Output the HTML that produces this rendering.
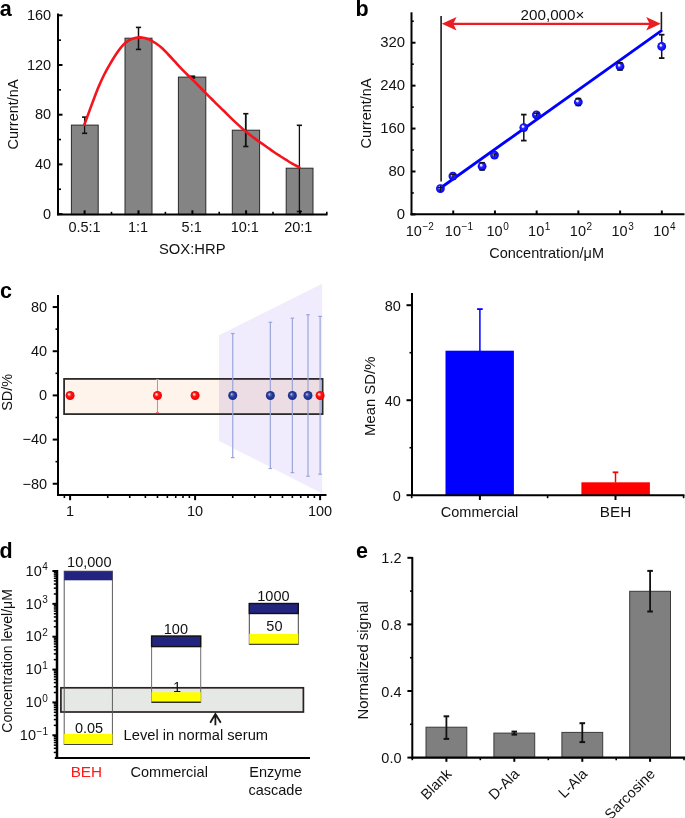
<!DOCTYPE html>
<html><head><meta charset="utf-8"><style>
html,body{margin:0;padding:0;background:#fff;}
svg{display:block;font-family:"Liberation Sans",sans-serif;will-change:transform;}
</style></head><body>
<svg width="685" height="818" viewBox="0 0 685 818">
<rect x="0" y="0" width="685" height="818" fill="#fff"/>
<defs>
<radialGradient id="gb" cx="0.5" cy="0.5" r="0.5" fx="0.36" fy="0.34"><stop offset="0" stop-color="#ffffff"/><stop offset="0.2" stop-color="#d8d8ff"/><stop offset="0.4" stop-color="#2a2aff"/><stop offset="1" stop-color="#0000f0"/></radialGradient>
<radialGradient id="gn" cx="0.5" cy="0.5" r="0.5" fx="0.36" fy="0.34"><stop offset="0" stop-color="#dcdcf4"/><stop offset="0.3" stop-color="#4b5fb0"/><stop offset="0.6" stop-color="#22399a"/><stop offset="1" stop-color="#1a2c86"/></radialGradient>
<radialGradient id="gr" cx="0.5" cy="0.5" r="0.5" fx="0.35" fy="0.33"><stop offset="0" stop-color="#ffffff"/><stop offset="0.22" stop-color="#ff9a9a"/><stop offset="0.45" stop-color="#ff1414"/><stop offset="1" stop-color="#ee0000"/></radialGradient>
</defs>
<text x="-0.30" y="15.70" font-size="21.5" text-anchor="start" fill="#000" font-weight="bold" >a</text>
<line x1="58.00" y1="13.60" x2="58.00" y2="215.20" stroke="#000" stroke-width="2" />
<line x1="58.00" y1="214.10" x2="62.50" y2="214.10" stroke="#000" stroke-width="2" />
<text x="51.20" y="218.70" font-size="14.5" text-anchor="end" fill="#111" >0</text>
<line x1="58.00" y1="164.40" x2="62.50" y2="164.40" stroke="#000" stroke-width="2" />
<text x="51.20" y="169.00" font-size="14.5" text-anchor="end" fill="#111" >40</text>
<line x1="58.00" y1="114.70" x2="62.50" y2="114.70" stroke="#000" stroke-width="2" />
<text x="51.20" y="119.30" font-size="14.5" text-anchor="end" fill="#111" >80</text>
<line x1="58.00" y1="65.00" x2="62.50" y2="65.00" stroke="#000" stroke-width="2" />
<text x="51.20" y="69.60" font-size="14.5" text-anchor="end" fill="#111" >120</text>
<line x1="58.00" y1="15.30" x2="62.50" y2="15.30" stroke="#000" stroke-width="2" />
<text x="51.20" y="19.90" font-size="14.5" text-anchor="end" fill="#111" >160</text>
<line x1="58.00" y1="189.25" x2="61.00" y2="189.25" stroke="#000" stroke-width="1.6" />
<line x1="58.00" y1="139.55" x2="61.00" y2="139.55" stroke="#000" stroke-width="1.6" />
<line x1="58.00" y1="89.85" x2="61.00" y2="89.85" stroke="#000" stroke-width="1.6" />
<line x1="58.00" y1="40.15" x2="61.00" y2="40.15" stroke="#000" stroke-width="1.6" />
<rect x="71.40" y="125.10" width="26.80" height="89.50" fill="#848484" stroke="#2a2a2a" stroke-width="1" />
<rect x="125.00" y="38.20" width="27.00" height="176.40" fill="#848484" stroke="#2a2a2a" stroke-width="1" />
<rect x="178.40" y="77.10" width="27.40" height="137.50" fill="#848484" stroke="#2a2a2a" stroke-width="1" />
<rect x="232.30" y="130.20" width="27.30" height="84.40" fill="#848484" stroke="#2a2a2a" stroke-width="1" />
<rect x="286.20" y="168.20" width="26.80" height="46.40" fill="#848484" stroke="#2a2a2a" stroke-width="1" />
<line x1="84.60" y1="117.10" x2="84.60" y2="133.30" stroke="#111" stroke-width="1.3" />
<line x1="82.00" y1="117.10" x2="87.20" y2="117.10" stroke="#111" stroke-width="1.6" />
<line x1="82.00" y1="133.30" x2="87.20" y2="133.30" stroke="#111" stroke-width="1.6" />
<line x1="138.50" y1="27.40" x2="138.50" y2="49.40" stroke="#111" stroke-width="1.5" />
<line x1="135.90" y1="27.40" x2="141.10" y2="27.40" stroke="#111" stroke-width="1.6" />
<line x1="135.90" y1="49.40" x2="141.10" y2="49.40" stroke="#111" stroke-width="1.6" />
<line x1="192.60" y1="76.20" x2="192.60" y2="78.00" stroke="#111" stroke-width="1.5" />
<line x1="190.00" y1="76.20" x2="195.20" y2="76.20" stroke="#111" stroke-width="1.6" />
<line x1="190.00" y1="78.00" x2="195.20" y2="78.00" stroke="#111" stroke-width="1.6" />
<line x1="245.80" y1="113.70" x2="245.80" y2="146.50" stroke="#111" stroke-width="1.8" />
<line x1="243.20" y1="113.70" x2="248.40" y2="113.70" stroke="#111" stroke-width="1.6" />
<line x1="243.20" y1="146.50" x2="248.40" y2="146.50" stroke="#111" stroke-width="1.6" />
<line x1="299.40" y1="125.30" x2="299.40" y2="211.50" stroke="#111" stroke-width="1.3" />
<line x1="296.80" y1="125.30" x2="302.00" y2="125.30" stroke="#111" stroke-width="1.6" />
<line x1="296.80" y1="211.50" x2="302.00" y2="211.50" stroke="#111" stroke-width="1.6" />
<line x1="57.00" y1="214.60" x2="327.50" y2="214.60" stroke="#000" stroke-width="2" />
<line x1="84.60" y1="214.30" x2="84.60" y2="210.30" stroke="#000" stroke-width="2" />
<line x1="138.50" y1="214.30" x2="138.50" y2="210.30" stroke="#000" stroke-width="2" />
<line x1="192.40" y1="214.30" x2="192.40" y2="210.30" stroke="#000" stroke-width="2" />
<line x1="246.10" y1="214.30" x2="246.10" y2="210.30" stroke="#000" stroke-width="2" />
<line x1="299.90" y1="214.30" x2="299.90" y2="210.30" stroke="#000" stroke-width="2" />
<line x1="57.80" y1="214.30" x2="57.80" y2="211.80" stroke="#000" stroke-width="1.6" />
<line x1="111.50" y1="214.30" x2="111.50" y2="211.80" stroke="#000" stroke-width="1.6" />
<line x1="165.40" y1="214.30" x2="165.40" y2="211.80" stroke="#000" stroke-width="1.6" />
<line x1="219.20" y1="214.30" x2="219.20" y2="211.80" stroke="#000" stroke-width="1.6" />
<line x1="273.00" y1="214.30" x2="273.00" y2="211.80" stroke="#000" stroke-width="1.6" />
<line x1="326.80" y1="214.30" x2="326.80" y2="211.80" stroke="#000" stroke-width="1.6" />
<text x="84.50" y="231.70" font-size="14.5" text-anchor="middle" fill="#111" >0.5:1</text>
<text x="138.00" y="231.70" font-size="14.5" text-anchor="middle" fill="#111" >1:1</text>
<text x="191.70" y="231.70" font-size="14.5" text-anchor="middle" fill="#111" >5:1</text>
<text x="244.80" y="231.70" font-size="14.5" text-anchor="middle" fill="#111" >10:1</text>
<text x="298.30" y="231.70" font-size="14.5" text-anchor="middle" fill="#111" >20:1</text>
<text x="192.30" y="253.60" font-size="14.8" text-anchor="middle" fill="#111" >SOX:HRP</text>
<text x="0.00" y="0.00" font-size="14.5" text-anchor="middle" fill="#111" transform="translate(17.6,114.5) rotate(-90)">Current/nA</text>
<path d="M84.30,124.80 C85.62,121.23 89.87,109.62 92.20,103.40 C94.53,97.18 96.25,92.40 98.30,87.50 C100.35,82.60 102.45,78.08 104.50,74.00 C106.55,69.92 108.57,66.47 110.60,63.00 C112.63,59.53 114.67,56.15 116.70,53.20 C118.73,50.25 120.77,47.43 122.80,45.30 C124.83,43.17 126.87,41.62 128.90,40.40 C130.93,39.18 133.07,38.50 135.00,38.00 C136.93,37.50 138.25,37.20 140.50,37.40 C142.75,37.60 145.90,38.18 148.50,39.20 C151.10,40.22 153.82,41.98 156.10,43.50 C158.38,45.02 160.17,46.47 162.20,48.30 C164.23,50.13 166.25,52.35 168.30,54.50 C170.35,56.65 172.45,58.97 174.50,61.20 C176.55,63.43 178.57,65.77 180.60,67.90 C182.63,70.03 184.67,72.00 186.70,74.00 C188.73,76.00 190.77,77.88 192.80,79.90 C194.83,81.92 196.87,84.02 198.90,86.10 C200.93,88.18 202.95,90.33 205.00,92.40 C207.05,94.47 209.15,96.47 211.20,98.50 C213.25,100.53 215.27,102.60 217.30,104.60 C219.33,106.60 221.10,108.25 223.40,110.50 C225.70,112.75 228.80,115.87 231.10,118.10 C233.40,120.33 235.17,122.02 237.20,123.90 C239.23,125.78 241.25,127.62 243.30,129.40 C245.35,131.18 247.45,132.98 249.50,134.60 C251.55,136.22 253.57,137.63 255.60,139.10 C257.63,140.57 259.67,141.97 261.70,143.40 C263.73,144.83 265.77,146.27 267.80,147.70 C269.83,149.13 271.87,150.62 273.90,152.00 C275.93,153.38 277.95,154.68 280.00,156.00 C282.05,157.32 284.15,158.63 286.20,159.90 C288.25,161.17 290.10,162.37 292.30,163.60 C294.50,164.83 298.22,166.68 299.40,167.30" fill="none" stroke="#f5141e" stroke-width="2.6" stroke-linecap="round"/>
<text x="355.60" y="15.70" font-size="21.5" text-anchor="start" fill="#000" font-weight="bold" >b</text>
<line x1="411.50" y1="12.30" x2="411.50" y2="215.30" stroke="#000" stroke-width="2" />
<line x1="411.50" y1="214.40" x2="415.50" y2="214.40" stroke="#000" stroke-width="2" />
<text x="405.00" y="218.90" font-size="14.9" text-anchor="end" fill="#111" >0</text>
<line x1="411.50" y1="171.48" x2="415.50" y2="171.48" stroke="#000" stroke-width="2" />
<text x="405.00" y="175.98" font-size="14.9" text-anchor="end" fill="#111" >80</text>
<line x1="411.50" y1="128.56" x2="415.50" y2="128.56" stroke="#000" stroke-width="2" />
<text x="405.00" y="133.06" font-size="14.9" text-anchor="end" fill="#111" >160</text>
<line x1="411.50" y1="85.64" x2="415.50" y2="85.64" stroke="#000" stroke-width="2" />
<text x="405.00" y="90.14" font-size="14.9" text-anchor="end" fill="#111" >240</text>
<line x1="411.50" y1="42.72" x2="415.50" y2="42.72" stroke="#000" stroke-width="2" />
<text x="405.00" y="47.22" font-size="14.9" text-anchor="end" fill="#111" >320</text>
<line x1="411.50" y1="192.94" x2="413.80" y2="192.94" stroke="#000" stroke-width="1.6" />
<line x1="411.50" y1="150.02" x2="413.80" y2="150.02" stroke="#000" stroke-width="1.6" />
<line x1="411.50" y1="107.10" x2="413.80" y2="107.10" stroke="#000" stroke-width="1.6" />
<line x1="411.50" y1="64.18" x2="413.80" y2="64.18" stroke="#000" stroke-width="1.6" />
<line x1="411.50" y1="21.26" x2="413.80" y2="21.26" stroke="#000" stroke-width="1.6" />
<line x1="410.50" y1="214.30" x2="684.50" y2="214.30" stroke="#000" stroke-width="2" />
<line x1="453.22" y1="214.30" x2="453.22" y2="210.50" stroke="#000" stroke-width="2" />
<line x1="494.94" y1="214.30" x2="494.94" y2="210.50" stroke="#000" stroke-width="2" />
<line x1="536.66" y1="214.30" x2="536.66" y2="210.50" stroke="#000" stroke-width="2" />
<line x1="578.38" y1="214.30" x2="578.38" y2="210.50" stroke="#000" stroke-width="2" />
<line x1="620.10" y1="214.30" x2="620.10" y2="210.50" stroke="#000" stroke-width="2" />
<line x1="661.82" y1="214.30" x2="661.82" y2="210.50" stroke="#000" stroke-width="2" />
<text x="405.72" y="236.00" font-size="14.5" fill="#111">10<tspan font-size="10" dx="0.6" dy="-6.2">−2</tspan></text>
<text x="444.82" y="236.00" font-size="14.5" fill="#111">10<tspan font-size="10" dx="0.6" dy="-6.2">−1</tspan></text>
<text x="486.39" y="236.00" font-size="14.5" fill="#111">10<tspan font-size="10" dx="0.6" dy="-6.2">0</tspan></text>
<text x="528.11" y="236.00" font-size="14.5" fill="#111">10<tspan font-size="10" dx="0.6" dy="-6.2">1</tspan></text>
<text x="569.83" y="236.00" font-size="14.5" fill="#111">10<tspan font-size="10" dx="0.6" dy="-6.2">2</tspan></text>
<text x="611.55" y="236.00" font-size="14.5" fill="#111">10<tspan font-size="10" dx="0.6" dy="-6.2">3</tspan></text>
<text x="653.27" y="236.00" font-size="14.5" fill="#111">10<tspan font-size="10" dx="0.6" dy="-6.2">4</tspan></text>
<text x="546.60" y="257.60" font-size="14.5" text-anchor="middle" fill="#111" >Concentration/μM</text>
<text x="0.00" y="0.00" font-size="14.5" text-anchor="middle" fill="#111" transform="translate(371,113.5) rotate(-90)">Current/nA</text>
<line x1="441.10" y1="16.10" x2="441.10" y2="181.50" stroke="#1a1a1a" stroke-width="1.6" />
<line x1="661.40" y1="11.90" x2="661.40" y2="29.80" stroke="#1a1a1a" stroke-width="1.6" />
<line x1="452.00" y1="23.80" x2="651.00" y2="23.80" stroke="#ec1c24" stroke-width="2.2" />
<path d="M441.8,23.8 L456.6,17.1 L453.2,23.8 L456.6,30.5 Z" fill="#ec1c24"/>
<path d="M660.8,23.8 L646.2,17.1 L649.6,23.8 L646.2,30.5 Z" fill="#ec1c24"/>
<text x="552.50" y="20.40" font-size="15.2" text-anchor="middle" fill="#111" >200,000×</text>
<line x1="439.80" y1="188.50" x2="662.20" y2="30.10" stroke="#0000ff" stroke-width="2.8" />
<line x1="523.80" y1="114.60" x2="523.80" y2="140.60" stroke="#111" stroke-width="1.5" />
<line x1="521.05" y1="114.60" x2="526.55" y2="114.60" stroke="#111" stroke-width="1.8" />
<line x1="521.05" y1="140.60" x2="526.55" y2="140.60" stroke="#111" stroke-width="1.8" />
<line x1="661.70" y1="34.70" x2="661.70" y2="58.10" stroke="#111" stroke-width="1.5" />
<line x1="658.95" y1="34.70" x2="664.45" y2="34.70" stroke="#111" stroke-width="1.8" />
<line x1="658.95" y1="58.10" x2="664.45" y2="58.10" stroke="#111" stroke-width="1.8" />
<circle cx="440.4" cy="188.6" r="4.4" fill="url(#gb)"/>
<line x1="440.40" y1="185.40" x2="440.40" y2="191.80" stroke="#111" stroke-width="1.1" />
<line x1="437.90" y1="187.60" x2="442.90" y2="187.60" stroke="#111" stroke-width="1.2" />
<circle cx="452.9" cy="176.1" r="4.4" fill="url(#gb)"/>
<line x1="450.30" y1="174.60" x2="455.50" y2="174.60" stroke="#111" stroke-width="1.3" />
<line x1="452.90" y1="174.60" x2="452.90" y2="177.60" stroke="#111" stroke-width="1" />
<circle cx="482.1" cy="166.3" r="4.4" fill="url(#gb)"/>
<line x1="479.30" y1="162.60" x2="484.90" y2="162.60" stroke="#111" stroke-width="1.4" />
<line x1="479.30" y1="170.00" x2="484.90" y2="170.00" stroke="#111" stroke-width="1.4" />
<circle cx="494.5" cy="155.1" r="4.4" fill="url(#gb)"/>
<line x1="491.90" y1="153.90" x2="497.10" y2="153.90" stroke="#111" stroke-width="1.3" />
<line x1="494.50" y1="153.90" x2="494.50" y2="156.30" stroke="#111" stroke-width="1" />
<circle cx="523.8" cy="127.6" r="4.4" fill="url(#gb)"/>
<circle cx="536.4" cy="114.8" r="4.4" fill="url(#gb)"/>
<line x1="533.80" y1="113.30" x2="539.00" y2="113.30" stroke="#111" stroke-width="1.3" />
<line x1="536.40" y1="113.30" x2="536.40" y2="116.30" stroke="#111" stroke-width="1" />
<circle cx="578.3" cy="102.0" r="4.4" fill="url(#gb)"/>
<line x1="575.50" y1="98.50" x2="581.10" y2="98.50" stroke="#111" stroke-width="1.4" />
<line x1="575.50" y1="105.50" x2="581.10" y2="105.50" stroke="#111" stroke-width="1.4" />
<circle cx="620.0" cy="66.4" r="4.4" fill="url(#gb)"/>
<line x1="617.20" y1="62.70" x2="622.80" y2="62.70" stroke="#111" stroke-width="1.4" />
<line x1="617.20" y1="70.10" x2="622.80" y2="70.10" stroke="#111" stroke-width="1.4" />
<circle cx="661.7" cy="46.4" r="4.4" fill="url(#gb)"/>
<text x="-0.10" y="297.50" font-size="21.5" text-anchor="start" fill="#000" font-weight="bold" >c</text>
<rect x="64.10" y="378.90" width="258.50" height="35.20" fill="#fef4eb" stroke="none" stroke-width="1" />
<polygon points="219,335.2 322.2,283.7 322.2,493.5 219,440.9" fill="#f0ecfd"/>
<rect x="219.00" y="378.90" width="103.60" height="35.20" fill="#ecdce3" stroke="none" stroke-width="1" />
<rect x="64.10" y="378.90" width="258.50" height="35.20" fill="none" stroke="#2b2b2b" stroke-width="1.8" />
<line x1="58.00" y1="294.90" x2="58.00" y2="495.60" stroke="#000" stroke-width="2" />
<line x1="52.70" y1="307.04" x2="58.00" y2="307.04" stroke="#000" stroke-width="2" />
<text x="47.20" y="311.84" font-size="14.5" text-anchor="end" fill="#111" >80</text>
<line x1="52.70" y1="351.22" x2="58.00" y2="351.22" stroke="#000" stroke-width="2" />
<text x="47.20" y="356.02" font-size="14.5" text-anchor="end" fill="#111" >40</text>
<line x1="52.70" y1="395.40" x2="58.00" y2="395.40" stroke="#000" stroke-width="2" />
<text x="47.20" y="400.20" font-size="14.5" text-anchor="end" fill="#111" >0</text>
<line x1="52.70" y1="439.58" x2="58.00" y2="439.58" stroke="#000" stroke-width="2" />
<text x="47.20" y="444.38" font-size="14.5" text-anchor="end" fill="#111" >−40</text>
<line x1="52.70" y1="483.76" x2="58.00" y2="483.76" stroke="#000" stroke-width="2" />
<text x="47.20" y="488.56" font-size="14.5" text-anchor="end" fill="#111" >−80</text>
<line x1="55.50" y1="329.13" x2="58.00" y2="329.13" stroke="#000" stroke-width="1.6" />
<line x1="55.50" y1="373.31" x2="58.00" y2="373.31" stroke="#000" stroke-width="1.6" />
<line x1="55.50" y1="417.49" x2="58.00" y2="417.49" stroke="#000" stroke-width="1.6" />
<line x1="55.50" y1="461.67" x2="58.00" y2="461.67" stroke="#000" stroke-width="1.6" />
<line x1="57.00" y1="495.00" x2="326.50" y2="495.00" stroke="#000" stroke-width="2" />
<line x1="70.10" y1="495.00" x2="70.10" y2="500.20" stroke="#000" stroke-width="2" />
<line x1="195.10" y1="495.00" x2="195.10" y2="500.20" stroke="#000" stroke-width="2" />
<line x1="320.10" y1="495.00" x2="320.10" y2="500.20" stroke="#000" stroke-width="2" />
<line x1="64.38" y1="495.00" x2="64.38" y2="498.00" stroke="#000" stroke-width="1.6" />
<line x1="107.73" y1="495.00" x2="107.73" y2="498.00" stroke="#000" stroke-width="1.6" />
<line x1="129.74" y1="495.00" x2="129.74" y2="498.00" stroke="#000" stroke-width="1.6" />
<line x1="145.36" y1="495.00" x2="145.36" y2="498.00" stroke="#000" stroke-width="1.6" />
<line x1="157.47" y1="495.00" x2="157.47" y2="498.00" stroke="#000" stroke-width="1.6" />
<line x1="167.37" y1="495.00" x2="167.37" y2="498.00" stroke="#000" stroke-width="1.6" />
<line x1="175.74" y1="495.00" x2="175.74" y2="498.00" stroke="#000" stroke-width="1.6" />
<line x1="182.99" y1="495.00" x2="182.99" y2="498.00" stroke="#000" stroke-width="1.6" />
<line x1="189.38" y1="495.00" x2="189.38" y2="498.00" stroke="#000" stroke-width="1.6" />
<line x1="232.73" y1="495.00" x2="232.73" y2="498.00" stroke="#000" stroke-width="1.6" />
<line x1="254.74" y1="495.00" x2="254.74" y2="498.00" stroke="#000" stroke-width="1.6" />
<line x1="270.36" y1="495.00" x2="270.36" y2="498.00" stroke="#000" stroke-width="1.6" />
<line x1="282.47" y1="495.00" x2="282.47" y2="498.00" stroke="#000" stroke-width="1.6" />
<line x1="292.37" y1="495.00" x2="292.37" y2="498.00" stroke="#000" stroke-width="1.6" />
<line x1="300.74" y1="495.00" x2="300.74" y2="498.00" stroke="#000" stroke-width="1.6" />
<line x1="307.99" y1="495.00" x2="307.99" y2="498.00" stroke="#000" stroke-width="1.6" />
<line x1="314.38" y1="495.00" x2="314.38" y2="498.00" stroke="#000" stroke-width="1.6" />
<text x="70.10" y="516.20" font-size="14.5" text-anchor="middle" fill="#111" >1</text>
<text x="195.10" y="516.20" font-size="14.5" text-anchor="middle" fill="#111" >10</text>
<text x="320.10" y="516.20" font-size="14.5" text-anchor="middle" fill="#111" >100</text>
<text x="0.00" y="0.00" font-size="14.5" text-anchor="middle" fill="#111" transform="translate(12.3,392.3) rotate(-90)">SD/%</text>
<line x1="232.73" y1="333.50" x2="232.73" y2="457.60" stroke="#9ba6d8" stroke-width="1.2" />
<line x1="230.93" y1="333.50" x2="234.53" y2="333.50" stroke="#9ba6d8" stroke-width="1.2" />
<line x1="230.93" y1="457.60" x2="234.53" y2="457.60" stroke="#9ba6d8" stroke-width="1.2" />
<line x1="270.36" y1="322.30" x2="270.36" y2="468.50" stroke="#9ba6d8" stroke-width="1.2" />
<line x1="268.56" y1="322.30" x2="272.16" y2="322.30" stroke="#9ba6d8" stroke-width="1.2" />
<line x1="268.56" y1="468.50" x2="272.16" y2="468.50" stroke="#9ba6d8" stroke-width="1.2" />
<line x1="292.37" y1="318.20" x2="292.37" y2="472.60" stroke="#9ba6d8" stroke-width="1.2" />
<line x1="290.57" y1="318.20" x2="294.17" y2="318.20" stroke="#9ba6d8" stroke-width="1.2" />
<line x1="290.57" y1="472.60" x2="294.17" y2="472.60" stroke="#9ba6d8" stroke-width="1.2" />
<line x1="307.99" y1="314.70" x2="307.99" y2="476.20" stroke="#9ba6d8" stroke-width="1.2" />
<line x1="306.19" y1="314.70" x2="309.79" y2="314.70" stroke="#9ba6d8" stroke-width="1.2" />
<line x1="306.19" y1="476.20" x2="309.79" y2="476.20" stroke="#9ba6d8" stroke-width="1.2" />
<line x1="320.10" y1="316.40" x2="320.10" y2="474.20" stroke="#9ba6d8" stroke-width="1.2" />
<line x1="318.30" y1="316.40" x2="321.90" y2="316.40" stroke="#9ba6d8" stroke-width="1.2" />
<line x1="318.30" y1="474.20" x2="321.90" y2="474.20" stroke="#9ba6d8" stroke-width="1.2" />
<line x1="157.47" y1="379.50" x2="157.47" y2="412.50" stroke="#f27a80" stroke-width="1" />
<line x1="155.97" y1="379.50" x2="158.97" y2="379.50" stroke="#f27a80" stroke-width="1" />
<line x1="155.97" y1="412.50" x2="158.97" y2="412.50" stroke="#f27a80" stroke-width="1" />
<circle cx="70.10" cy="395.5" r="4.5" fill="url(#gr)"/>
<circle cx="157.47" cy="395.5" r="4.5" fill="url(#gr)"/>
<circle cx="195.10" cy="395.5" r="4.5" fill="url(#gr)"/>
<circle cx="320.10" cy="395.5" r="4.5" fill="url(#gr)"/>
<circle cx="232.73" cy="395.5" r="4.5" fill="url(#gn)"/>
<circle cx="270.36" cy="395.5" r="4.5" fill="url(#gn)"/>
<circle cx="292.37" cy="395.5" r="4.5" fill="url(#gn)"/>
<circle cx="307.99" cy="395.5" r="4.5" fill="url(#gn)"/>
<rect x="445.50" y="350.70" width="68.40" height="144.50" fill="#0000ff" stroke="none" stroke-width="1" />
<rect x="581.40" y="482.30" width="68.50" height="12.90" fill="#ff0000" stroke="none" stroke-width="1" />
<line x1="479.90" y1="309.10" x2="479.90" y2="351.00" stroke="#0000ff" stroke-width="1.5" />
<line x1="477.10" y1="309.10" x2="482.70" y2="309.10" stroke="#0000ff" stroke-width="1.8" />
<line x1="615.50" y1="472.30" x2="615.50" y2="482.50" stroke="#ff0000" stroke-width="1.5" />
<line x1="612.70" y1="472.30" x2="618.30" y2="472.30" stroke="#ff0000" stroke-width="1.8" />
<line x1="412.00" y1="293.10" x2="412.00" y2="495.60" stroke="#000" stroke-width="2" />
<line x1="406.50" y1="495.20" x2="412.00" y2="495.20" stroke="#000" stroke-width="2" />
<text x="400.80" y="500.80" font-size="14.5" text-anchor="end" fill="#111" >0</text>
<line x1="406.50" y1="400.20" x2="412.00" y2="400.20" stroke="#000" stroke-width="2" />
<text x="400.80" y="405.80" font-size="14.5" text-anchor="end" fill="#111" >40</text>
<line x1="406.50" y1="305.20" x2="412.00" y2="305.20" stroke="#000" stroke-width="2" />
<text x="400.80" y="310.80" font-size="14.5" text-anchor="end" fill="#111" >80</text>
<line x1="409.50" y1="447.70" x2="412.00" y2="447.70" stroke="#000" stroke-width="1.6" />
<line x1="409.50" y1="352.70" x2="412.00" y2="352.70" stroke="#000" stroke-width="1.6" />
<line x1="411.00" y1="495.20" x2="684.50" y2="495.20" stroke="#000" stroke-width="2" />
<line x1="479.90" y1="495.20" x2="479.90" y2="500.00" stroke="#000" stroke-width="2" />
<line x1="615.50" y1="495.20" x2="615.50" y2="500.00" stroke="#000" stroke-width="2" />
<line x1="411.70" y1="495.20" x2="411.70" y2="498.20" stroke="#000" stroke-width="1.6" />
<line x1="547.60" y1="495.20" x2="547.60" y2="498.20" stroke="#000" stroke-width="1.6" />
<line x1="683.60" y1="495.20" x2="683.60" y2="498.20" stroke="#000" stroke-width="1.6" />
<text x="479.50" y="516.70" font-size="14.5" text-anchor="middle" fill="#111" >Commercial</text>
<text x="615.50" y="516.90" font-size="15.3" text-anchor="middle" fill="#111" >BEH</text>
<text x="0.00" y="0.00" font-size="14.9" text-anchor="middle" fill="#111" transform="translate(375,396.3) rotate(-90)">Mean SD/%</text>
<text x="-0.40" y="558.20" font-size="21.5" text-anchor="start" fill="#000" font-weight="bold" >d</text>
<rect x="60.90" y="687.80" width="242.50" height="24.20" fill="#e6e8e6" stroke="#2a2222" stroke-width="1.7" />
<rect x="64.20" y="571.20" width="48.20" height="173.30" fill="none" stroke="#5a5a5a" stroke-width="1" />
<rect x="64.20" y="571.20" width="48.20" height="9.10" fill="#23247f" stroke="none" stroke-width="1" />
<rect x="64.20" y="733.90" width="48.20" height="10.60" fill="#ffff00" stroke="none" stroke-width="1" />
<rect x="151.60" y="636.10" width="49.10" height="66.20" fill="none" stroke="#707070" stroke-width="1" />
<rect x="151.60" y="636.10" width="49.10" height="10.50" fill="#23247f" stroke="none" stroke-width="1" />
<rect x="151.60" y="692.20" width="49.10" height="10.10" fill="#ffff00" stroke="none" stroke-width="1" />
<rect x="151.60" y="636.10" width="49.10" height="10.50" fill="none" stroke="#111" stroke-width="1.4" />
<line x1="151.60" y1="702.30" x2="200.70" y2="702.30" stroke="#333" stroke-width="1.4" />
<rect x="249.30" y="603.50" width="49.00" height="40.90" fill="none" stroke="#444" stroke-width="1" />
<rect x="249.30" y="603.50" width="49.00" height="10.00" fill="#23247f" stroke="none" stroke-width="1" />
<rect x="249.30" y="633.90" width="49.00" height="10.50" fill="#ffff00" stroke="none" stroke-width="1" />
<rect x="249.30" y="603.50" width="49.00" height="10.00" fill="none" stroke="#111" stroke-width="1.4" />
<line x1="249.30" y1="644.40" x2="298.30" y2="644.40" stroke="#444" stroke-width="1.2" />
<line x1="64.20" y1="744.50" x2="112.40" y2="744.50" stroke="#444" stroke-width="1.2" />
<line x1="57.00" y1="570.00" x2="57.00" y2="759.00" stroke="#000" stroke-width="2.5" />
<line x1="52.40" y1="735.25" x2="57.00" y2="735.25" stroke="#000" stroke-width="2" />
<text x="19.82" y="739.95" font-size="14.5" fill="#111">10<tspan font-size="10" dx="0.6" dy="-5.4">−1</tspan></text>
<line x1="52.40" y1="702.40" x2="57.00" y2="702.40" stroke="#000" stroke-width="2" />
<text x="25.62" y="707.10" font-size="14.5" fill="#111">10<tspan font-size="10" dx="0.6" dy="-5.4">0</tspan></text>
<line x1="52.40" y1="669.55" x2="57.00" y2="669.55" stroke="#000" stroke-width="2" />
<text x="25.62" y="674.25" font-size="14.5" fill="#111">10<tspan font-size="10" dx="0.6" dy="-5.4">1</tspan></text>
<line x1="52.40" y1="636.70" x2="57.00" y2="636.70" stroke="#000" stroke-width="2" />
<text x="25.62" y="641.40" font-size="14.5" fill="#111">10<tspan font-size="10" dx="0.6" dy="-5.4">2</tspan></text>
<line x1="52.40" y1="603.85" x2="57.00" y2="603.85" stroke="#000" stroke-width="2" />
<text x="25.62" y="608.55" font-size="14.5" fill="#111">10<tspan font-size="10" dx="0.6" dy="-5.4">3</tspan></text>
<line x1="52.40" y1="571.00" x2="57.00" y2="571.00" stroke="#000" stroke-width="2" />
<text x="25.62" y="575.70" font-size="14.5" fill="#111">10<tspan font-size="10" dx="0.6" dy="-5.4">4</tspan></text>
<line x1="53.80" y1="752.43" x2="57.00" y2="752.43" stroke="#000" stroke-width="1.5" />
<line x1="53.80" y1="748.32" x2="57.00" y2="748.32" stroke="#000" stroke-width="1.5" />
<line x1="53.80" y1="745.14" x2="57.00" y2="745.14" stroke="#000" stroke-width="1.5" />
<line x1="53.80" y1="742.54" x2="57.00" y2="742.54" stroke="#000" stroke-width="1.5" />
<line x1="53.80" y1="740.34" x2="57.00" y2="740.34" stroke="#000" stroke-width="1.5" />
<line x1="53.80" y1="738.43" x2="57.00" y2="738.43" stroke="#000" stroke-width="1.5" />
<line x1="53.80" y1="736.75" x2="57.00" y2="736.75" stroke="#000" stroke-width="1.5" />
<line x1="53.80" y1="725.36" x2="57.00" y2="725.36" stroke="#000" stroke-width="1.5" />
<line x1="53.80" y1="719.58" x2="57.00" y2="719.58" stroke="#000" stroke-width="1.5" />
<line x1="53.80" y1="715.47" x2="57.00" y2="715.47" stroke="#000" stroke-width="1.5" />
<line x1="53.80" y1="712.29" x2="57.00" y2="712.29" stroke="#000" stroke-width="1.5" />
<line x1="53.80" y1="709.69" x2="57.00" y2="709.69" stroke="#000" stroke-width="1.5" />
<line x1="53.80" y1="707.49" x2="57.00" y2="707.49" stroke="#000" stroke-width="1.5" />
<line x1="53.80" y1="705.58" x2="57.00" y2="705.58" stroke="#000" stroke-width="1.5" />
<line x1="53.80" y1="703.90" x2="57.00" y2="703.90" stroke="#000" stroke-width="1.5" />
<line x1="53.80" y1="692.51" x2="57.00" y2="692.51" stroke="#000" stroke-width="1.5" />
<line x1="53.80" y1="686.73" x2="57.00" y2="686.73" stroke="#000" stroke-width="1.5" />
<line x1="53.80" y1="682.62" x2="57.00" y2="682.62" stroke="#000" stroke-width="1.5" />
<line x1="53.80" y1="679.44" x2="57.00" y2="679.44" stroke="#000" stroke-width="1.5" />
<line x1="53.80" y1="676.84" x2="57.00" y2="676.84" stroke="#000" stroke-width="1.5" />
<line x1="53.80" y1="674.64" x2="57.00" y2="674.64" stroke="#000" stroke-width="1.5" />
<line x1="53.80" y1="672.73" x2="57.00" y2="672.73" stroke="#000" stroke-width="1.5" />
<line x1="53.80" y1="671.05" x2="57.00" y2="671.05" stroke="#000" stroke-width="1.5" />
<line x1="53.80" y1="659.66" x2="57.00" y2="659.66" stroke="#000" stroke-width="1.5" />
<line x1="53.80" y1="653.88" x2="57.00" y2="653.88" stroke="#000" stroke-width="1.5" />
<line x1="53.80" y1="649.77" x2="57.00" y2="649.77" stroke="#000" stroke-width="1.5" />
<line x1="53.80" y1="646.59" x2="57.00" y2="646.59" stroke="#000" stroke-width="1.5" />
<line x1="53.80" y1="643.99" x2="57.00" y2="643.99" stroke="#000" stroke-width="1.5" />
<line x1="53.80" y1="641.79" x2="57.00" y2="641.79" stroke="#000" stroke-width="1.5" />
<line x1="53.80" y1="639.88" x2="57.00" y2="639.88" stroke="#000" stroke-width="1.5" />
<line x1="53.80" y1="638.20" x2="57.00" y2="638.20" stroke="#000" stroke-width="1.5" />
<line x1="53.80" y1="626.81" x2="57.00" y2="626.81" stroke="#000" stroke-width="1.5" />
<line x1="53.80" y1="621.03" x2="57.00" y2="621.03" stroke="#000" stroke-width="1.5" />
<line x1="53.80" y1="616.92" x2="57.00" y2="616.92" stroke="#000" stroke-width="1.5" />
<line x1="53.80" y1="613.74" x2="57.00" y2="613.74" stroke="#000" stroke-width="1.5" />
<line x1="53.80" y1="611.14" x2="57.00" y2="611.14" stroke="#000" stroke-width="1.5" />
<line x1="53.80" y1="608.94" x2="57.00" y2="608.94" stroke="#000" stroke-width="1.5" />
<line x1="53.80" y1="607.03" x2="57.00" y2="607.03" stroke="#000" stroke-width="1.5" />
<line x1="53.80" y1="605.35" x2="57.00" y2="605.35" stroke="#000" stroke-width="1.5" />
<line x1="53.80" y1="593.96" x2="57.00" y2="593.96" stroke="#000" stroke-width="1.5" />
<line x1="53.80" y1="588.18" x2="57.00" y2="588.18" stroke="#000" stroke-width="1.5" />
<line x1="53.80" y1="584.07" x2="57.00" y2="584.07" stroke="#000" stroke-width="1.5" />
<line x1="53.80" y1="580.89" x2="57.00" y2="580.89" stroke="#000" stroke-width="1.5" />
<line x1="53.80" y1="578.29" x2="57.00" y2="578.29" stroke="#000" stroke-width="1.5" />
<line x1="53.80" y1="576.09" x2="57.00" y2="576.09" stroke="#000" stroke-width="1.5" />
<line x1="53.80" y1="574.18" x2="57.00" y2="574.18" stroke="#000" stroke-width="1.5" />
<line x1="53.80" y1="572.50" x2="57.00" y2="572.50" stroke="#000" stroke-width="1.5" />
<line x1="54.80" y1="758.00" x2="310.00" y2="758.00" stroke="#000" stroke-width="2.2" />
<text x="0.00" y="0.00" font-size="14" text-anchor="middle" fill="#111" transform="translate(11.7,660.9) rotate(-90)">Concentration level/μM</text>
<text x="89.30" y="567.30" font-size="14.5" text-anchor="middle" fill="#111" >10,000</text>
<text x="175.90" y="633.80" font-size="14.5" text-anchor="middle" fill="#111" >100</text>
<text x="177.00" y="691.50" font-size="14.5" text-anchor="middle" fill="#111" >1</text>
<text x="89.00" y="732.50" font-size="14.5" text-anchor="middle" fill="#111" >0.05</text>
<text x="273.40" y="600.80" font-size="14.5" text-anchor="middle" fill="#111" >1000</text>
<text x="274.40" y="631.20" font-size="14.5" text-anchor="middle" fill="#111" >50</text>
<path d="M215.4,714.2 L215.4,725.2 M210.2,722.8 L215.4,714.0 L220.8,722.8" fill="none" stroke="#1a1414" stroke-width="1.8"/>
<text x="123.60" y="739.80" font-size="14.7" text-anchor="start" fill="#111" >Level in normal serum</text>
<text x="86.40" y="776.80" font-size="15.3" text-anchor="middle" fill="#ff1a1a" >BEH</text>
<text x="169.20" y="777.10" font-size="14.5" text-anchor="middle" fill="#111" >Commercial</text>
<text x="275.50" y="777.00" font-size="14.5" text-anchor="middle" fill="#111" >Enzyme</text>
<text x="275.50" y="794.60" font-size="14.5" text-anchor="middle" fill="#111" >cascade</text>
<text x="356.00" y="557.90" font-size="21.5" text-anchor="start" fill="#000" font-weight="bold" >e</text>
<rect x="426.00" y="727.20" width="40.80" height="30.40" fill="#7f7f7f" stroke="#3a3a3a" stroke-width="1" />
<rect x="493.90" y="733.10" width="40.80" height="24.50" fill="#7f7f7f" stroke="#3a3a3a" stroke-width="1" />
<rect x="561.90" y="732.40" width="40.80" height="25.20" fill="#7f7f7f" stroke="#3a3a3a" stroke-width="1" />
<rect x="629.70" y="591.30" width="40.80" height="166.30" fill="#7f7f7f" stroke="#3a3a3a" stroke-width="1" />
<line x1="446.40" y1="716.30" x2="446.40" y2="738.90" stroke="#111" stroke-width="1.8" />
<line x1="443.60" y1="716.30" x2="449.20" y2="716.30" stroke="#111" stroke-width="2" />
<line x1="443.60" y1="738.90" x2="449.20" y2="738.90" stroke="#111" stroke-width="2" />
<line x1="514.30" y1="731.60" x2="514.30" y2="734.60" stroke="#111" stroke-width="1.8" />
<line x1="511.50" y1="731.60" x2="517.10" y2="731.60" stroke="#111" stroke-width="2" />
<line x1="511.50" y1="734.60" x2="517.10" y2="734.60" stroke="#111" stroke-width="2" />
<line x1="582.30" y1="723.20" x2="582.30" y2="742.10" stroke="#111" stroke-width="1.8" />
<line x1="579.50" y1="723.20" x2="585.10" y2="723.20" stroke="#111" stroke-width="2" />
<line x1="579.50" y1="742.10" x2="585.10" y2="742.10" stroke="#111" stroke-width="2" />
<line x1="650.10" y1="570.90" x2="650.10" y2="611.50" stroke="#111" stroke-width="1.8" />
<line x1="647.30" y1="570.90" x2="652.90" y2="570.90" stroke="#111" stroke-width="2" />
<line x1="647.30" y1="611.50" x2="652.90" y2="611.50" stroke="#111" stroke-width="2" />
<line x1="412.30" y1="557.00" x2="412.30" y2="758.60" stroke="#000" stroke-width="2" />
<line x1="407.40" y1="757.60" x2="412.30" y2="757.60" stroke="#000" stroke-width="2" />
<text x="401.50" y="763.10" font-size="14.5" text-anchor="end" fill="#111" >0.0</text>
<line x1="407.40" y1="691.00" x2="412.30" y2="691.00" stroke="#000" stroke-width="2" />
<text x="401.50" y="696.50" font-size="14.5" text-anchor="end" fill="#111" >0.4</text>
<line x1="407.40" y1="624.40" x2="412.30" y2="624.40" stroke="#000" stroke-width="2" />
<text x="401.50" y="629.90" font-size="14.5" text-anchor="end" fill="#111" >0.8</text>
<line x1="407.40" y1="557.80" x2="412.30" y2="557.80" stroke="#000" stroke-width="2" />
<text x="401.50" y="563.30" font-size="14.5" text-anchor="end" fill="#111" >1.2</text>
<line x1="410.00" y1="724.30" x2="412.30" y2="724.30" stroke="#000" stroke-width="1.6" />
<line x1="410.00" y1="657.70" x2="412.30" y2="657.70" stroke="#000" stroke-width="1.6" />
<line x1="410.00" y1="591.10" x2="412.30" y2="591.10" stroke="#000" stroke-width="1.6" />
<line x1="411.30" y1="757.60" x2="685.00" y2="757.60" stroke="#000" stroke-width="2.2" />
<line x1="446.40" y1="757.60" x2="446.40" y2="761.80" stroke="#000" stroke-width="2" />
<line x1="514.30" y1="757.60" x2="514.30" y2="761.80" stroke="#000" stroke-width="2" />
<line x1="582.30" y1="757.60" x2="582.30" y2="761.80" stroke="#000" stroke-width="2" />
<line x1="650.10" y1="757.60" x2="650.10" y2="761.80" stroke="#000" stroke-width="2" />
<line x1="412.30" y1="757.60" x2="412.30" y2="760.20" stroke="#000" stroke-width="1.6" />
<line x1="480.30" y1="757.60" x2="480.30" y2="760.20" stroke="#000" stroke-width="1.6" />
<line x1="548.30" y1="757.60" x2="548.30" y2="760.20" stroke="#000" stroke-width="1.6" />
<line x1="616.20" y1="757.60" x2="616.20" y2="760.20" stroke="#000" stroke-width="1.6" />
<line x1="684.00" y1="757.60" x2="684.00" y2="760.20" stroke="#000" stroke-width="1.6" />
<text x="0.00" y="0.00" font-size="14.9" text-anchor="middle" fill="#111" transform="translate(368.4,660.4) rotate(-90)">Normalized signal</text>
<text x="0.00" y="0.00" font-size="14.5" text-anchor="end" fill="#111" transform="translate(452.30,774.80) rotate(-45)">Blank</text>
<text x="0.00" y="0.00" font-size="14.5" text-anchor="end" fill="#111" transform="translate(520.20,774.80) rotate(-45)">D-Ala</text>
<text x="0.00" y="0.00" font-size="14.5" text-anchor="end" fill="#111" transform="translate(588.20,774.80) rotate(-45)">L-Ala</text>
<text x="0.00" y="0.00" font-size="14.5" text-anchor="end" fill="#111" transform="translate(656.00,774.80) rotate(-45)">Sarcosine</text>
</svg></body></html>
